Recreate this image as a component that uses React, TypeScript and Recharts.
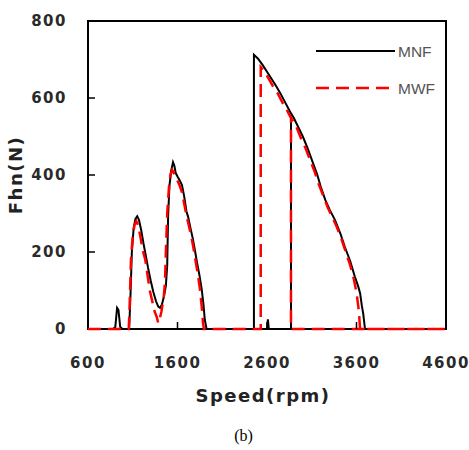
import { LineChart, Line, XAxis, YAxis, ReferenceArea, Label } from 'recharts';

// speed (rpm) / force (N)
const mnfSpeed = [600, 880, 905, 925, 940, 960, 985, 1060, 1075, 1090, 1110, 1130, 1150, 1170, 1195, 1220, 1245, 1270, 1300, 1330, 1360, 1385, 1405, 1425, 1450, 1470, 1485, 1495, 1510, 1530, 1550, 1565, 1580, 1600, 1625, 1650, 1675, 1700, 1720, 1745, 1770, 1795, 1820, 1845, 1870, 1890, 1905, 1925, 2600, 2610, 2620, 2454, 2454, 2500, 2550, 2600, 2650, 2700, 2750, 2800, 2868, 2900, 2950, 3000, 3050, 3100, 3160, 3200, 3250, 3300, 3360, 3420, 3470, 3530, 3580, 3620, 3640, 3660, 3675, 3695, 4600, 2868, 2868];
const mnfForce = [0, 0, 5, 55, 50, 5, 0, 0, 90, 200, 262, 286, 293, 283, 256, 222, 192, 160, 126, 96, 72, 58, 55, 63, 86, 112, 165, 292, 372, 412, 433, 424, 405, 396, 386, 374, 344, 306, 290, 262, 236, 204, 170, 140, 104, 64, 24, 0, 0, 25, 0, 0, 712, 702, 686, 668, 650, 632, 612, 590, 560, 548, 524, 500, 472, 440, 402, 370, 336, 310, 283, 248, 213, 176, 137, 110, 93, 60, 40, 0, 0, 0, 552];

const mwfSpeed = [600, 1055, 1065, 1080, 1100, 1120, 1140, 1160, 1185, 1210, 1240, 1265, 1290, 1320, 1345, 1370, 1385, 1400, 1420, 1445, 1460, 1470, 1485, 1505, 1520, 1540, 1560, 1580, 1600, 1625, 1650, 1675, 1700, 1725, 1750, 1775, 1800, 1825, 1850, 1870, 1885, 1895, 2530, 2530, 2580, 2620, 2680, 2720, 2780, 2830, 2868, 2920, 2980, 3030, 3080, 3130, 3180, 3230, 3280, 3330, 3380, 3430, 3480, 3530, 3570, 3600, 3625, 3640, 4600, 2868, 2868];
const mwfForce = [0, 0, 60, 180, 242, 270, 280, 270, 240, 206, 180, 140, 100, 70, 45, 30, 15, 25, 45, 80, 120, 200, 300, 370, 400, 413, 405, 395, 385, 372, 355, 325, 295, 270, 245, 215, 180, 145, 105, 60, 15, 0, 0, 680, 666, 650, 625, 612, 585, 565, 548, 530, 495, 470, 440, 410, 375, 345, 315, 290, 265, 235, 200, 165, 130, 95, 50, 0, 0, 0, 548];

const xTicks = [600, 1600, 2600, 3600, 4600];
const yTicks = [0, 200, 400, 600, 800];

const mnf = mnfSpeed.map((x, i) => ({ x, y: mnfForce[i] }));
const mwf = mwfSpeed.map((x, i) => ({ x, y: mwfForce[i] }));

const tickFont = { fontFamily: 'DejaVu Sans', fontSize: 15, fontWeight: 'bold' as const, fill: '#2a2a2a', letterSpacing: 1.5 };
const titleFont = { fontFamily: 'DejaVu Sans', fontSize: 18, fontWeight: 'bold' as const, fill: '#222', letterSpacing: 1.5 };

const XTick = (props: any) => {
  const { x, y, payload } = props;
  const edge = payload.value === 600 || payload.value === 4600;
  return (
    <g>
      {!edge && <line x1={x} x2={x} y1={y} y2={y - 7} stroke="#000" strokeWidth={1.5} />}
      <text x={x} y={y + 34} textAnchor="middle" dominantBaseline="central" {...tickFont}>{payload.value}</text>
    </g>
  );
};

const YTick = (props: any) => {
  const { x, y, payload } = props;
  const edge = payload.value === 0 || payload.value === 800;
  return (
    <g>
      {!edge && <line x1={x} x2={x + 7} y1={y} y2={y} stroke="#000" strokeWidth={1.5} />}
      <text x={x - 21} y={y} textAnchor="end" dominantBaseline="central" {...tickFont}>{payload.value}</text>
    </g>
  );
};

const LegendBox = () => (
  <svg width={140} height={60} style={{ position: 'absolute', left: 316, top: 43 }}>
    <line x1={0} x2={79} y1={8} y2={8} stroke="#000" strokeWidth={2} />
    <text x={82} y={8} dominantBaseline="central" fontFamily="Liberation Sans" fontSize={15.5} fill="#555">MNF</text>
    <line x1={0} x2={79} y1={45} y2={45} stroke="#ff0000" strokeWidth={2.5} strokeDasharray="13 7" />
    <text x={82} y={45} dominantBaseline="central" fontFamily="Liberation Sans" fontSize={15.5} fill="#555">MWF</text>
  </svg>
);

export default function App() {
  return (
    <div style={{ position: 'absolute', left: 0, top: 0, width: 469, height: 450, background: '#fff' }}>
      <LineChart width={469} height={450} margin={{ top: 21, right: 23, bottom: 0, left: 0 }}>
        <XAxis
          type="number"
          dataKey="x"
          domain={[600, 4600]}
          ticks={xTicks}
          allowDataOverflow
          height={121}
          axisLine={false}
          tickLine={false}
          tickSize={0}
          tickMargin={0}
          tick={<XTick />}
        >
          <Label
            content={() => (
              <text x={263} y={395} textAnchor="middle" dominantBaseline="central" {...titleFont}>Speed(rpm)</text>
            )}
          />
        </XAxis>
        <YAxis
          type="number"
          domain={[0, 800]}
          ticks={yTicks}
          width={88}
          axisLine={false}
          tickLine={false}
          tickSize={0}
          tickMargin={0}
          tick={<YTick />}
        >
          <Label
            content={() => (
              <text x={15} y={175} textAnchor="middle" dominantBaseline="central" transform="rotate(-90 15 175)" {...titleFont}>Fhn(N)</text>
            )}
          />
        </YAxis>
        <ReferenceArea x1={600} x2={4600} y1={0} y2={800} fill="none" stroke="#000" strokeWidth={2} ifOverflow="visible" />
        <Line data={mnf} dataKey="y" type="linear" stroke="#000" strokeWidth={2} dot={false} isAnimationActive={false} />
        <Line data={mwf} dataKey="y" type="linear" stroke="#ff0000" strokeWidth={2.5} strokeDasharray="13 7" dot={false} isAnimationActive={false} />
      </LineChart>
      <LegendBox />
      <div style={{ position: 'absolute', left: 0, width: 469, top: 427, textAlign: 'center', fontFamily: 'Liberation Serif', fontSize: 16, paddingLeft: 18, boxSizing: 'border-box' }}>(b)</div>
    </div>
  );
}
